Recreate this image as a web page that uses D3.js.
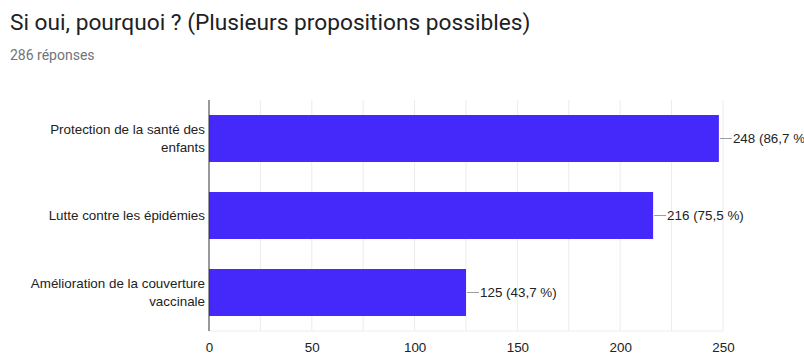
<!DOCTYPE html>
<html lang="fr">
<head>
  <meta charset="UTF-8">
  <title>Si oui, pourquoi ?</title>
  <script src="https://d3js.org/d3.v7.min.js"></script>
  <style>
    body { margin: 0; background: #fff; overflow: hidden; }
    .title { font-family: Roboto, "Liberation Sans", sans-serif; font-size: 22.7px; fill: #202124; }
    .subtitle { font-family: Roboto, "Liberation Sans", sans-serif; font-size: 14px; fill: #70757a; }
    .lbl { font-family: "Liberation Sans", Arial, sans-serif; font-size: 13.4px; fill: #222; }
  </style>
</head>
<body>
  <div id="chart"></div>

  <script>
    // data
    const categories = [
      ["Protection de la santé des", "enfants"],
      ["Lutte contre les épidémies"],
      ["Amélioration de la couverture", "vaccinale"]
    ];
    const counts = [248, 216, 125];
    const percents = ["86,7 %", "75,5 %", "43,7 %"];
    const tickValues = [0, 50, 100, 150, 200, 250];
    const gridValues = [25, 50, 75, 100, 125, 150, 175, 200, 225, 250];

    const W = 804, H = 356;
    const plot = { left: 209, right: 723, top: 100, bottom: 331 };

    const svg = d3.select("#chart")
      .append("svg")
      .attr("width", W)
      .attr("height", H);

    svg.append("text").attr("class", "title")
      .attr("x", 10).attr("y", 30)
      .text("Si oui, pourquoi ? (Plusieurs propositions possibles)");
    svg.append("text").attr("class", "subtitle")
      .attr("x", 10).attr("y", 60)
      .text("286 réponses");

    const x = d3.scaleLinear().domain([0, 250]).range([plot.left, plot.right]);
    const y = d3.scaleBand()
      .domain(d3.range(counts.length))
      .range([plot.top, plot.bottom])
      .paddingInner(0.39)
      .paddingOuter(0.195);

    // grid lines
    svg.append("g").selectAll("line")
      .data(gridValues)
      .enter().append("line")
      .attr("x1", d => x(d)).attr("x2", d => x(d))
      .attr("y1", plot.top).attr("y2", plot.bottom)
      .attr("stroke", "#ececec").attr("stroke-width", 1);

    // bottom baseline
    svg.append("line")
      .attr("x1", plot.left).attr("x2", plot.right)
      .attr("y1", plot.bottom).attr("y2", plot.bottom)
      .attr("stroke", "#ececec");

    // bars
    svg.selectAll(".bar")
      .data(counts)
      .enter().append("rect")
      .attr("class", "bar")
      .attr("x", x(0))
      .attr("y", (d, i) => y(i))
      .attr("width", d => x(d) - x(0))
      .attr("height", y.bandwidth())
      .attr("fill", "#4529fb");

    // leader lines and value labels
    svg.selectAll(".lead")
      .data(counts)
      .enter().append("line")
      .attr("x1", d => x(d) + 1).attr("x2", d => x(d) + 13)
      .attr("y1", (d, i) => y(i) + y.bandwidth() / 2)
      .attr("y2", (d, i) => y(i) + y.bandwidth() / 2)
      .attr("stroke", "#9e9e9e");

    svg.selectAll(".val")
      .data(counts)
      .enter().append("text")
      .attr("class", "lbl")
      .attr("x", d => x(d) + 14)
      .attr("y", (d, i) => y(i) + y.bandwidth() / 2 + 4.8)
      .text((d, i) => d + " (" + percents[i] + ")");

    // category labels
    const cat = svg.selectAll(".cat")
      .data(categories)
      .enter().append("text")
      .attr("class", "lbl")
      .attr("text-anchor", "end")
      .attr("y", (d, i) => y(i) + y.bandwidth() / 2 + 4.8 - (d.length - 1) * 9);
    cat.selectAll("tspan")
      .data(d => d)
      .enter().append("tspan")
      .attr("x", plot.left - 4)
      .attr("dy", (d, j) => j === 0 ? 0 : 18)
      .text(d => d);

    // y axis line
    svg.append("line")
      .attr("x1", plot.left).attr("x2", plot.left)
      .attr("y1", plot.top).attr("y2", plot.bottom)
      .attr("stroke", "#333").attr("stroke-width", 1);

    // x axis tick labels
    const xAxis = d3.axisBottom(x).tickValues(tickValues).tickSize(0).tickPadding(11);
    const gx = svg.append("g")
      .attr("transform", "translate(0," + plot.bottom + ")")
      .call(xAxis);
    gx.select(".domain").remove();
    gx.selectAll("text")
      .attr("class", "lbl")
      .style("font-size", "13.4px")
      .attr("fill", "#222");
  </script>
</body>
</html>
